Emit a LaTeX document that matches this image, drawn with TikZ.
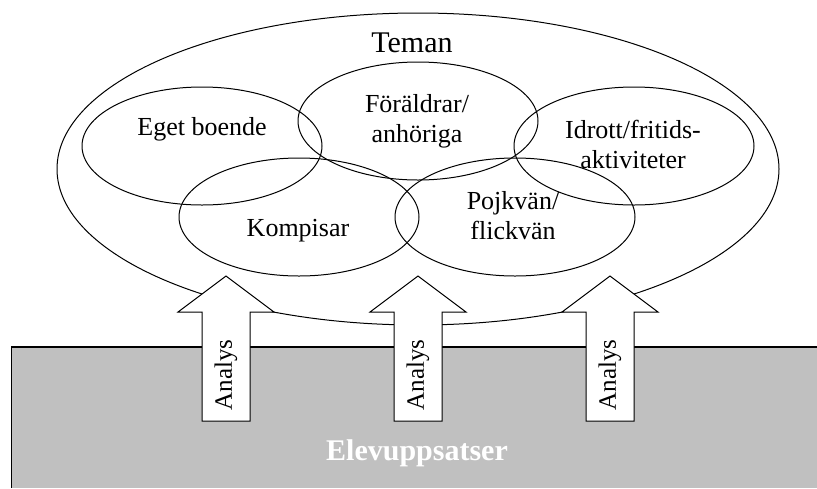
\documentclass[tikz,border=0pt]{standalone}
\usepackage{fontspec}
\setmainfont{Liberation Serif}
\usepackage{tikz}
\usetikzlibrary{shapes.geometric}
\definecolor{boxgray}{RGB}{192,192,192}

\begin{document}
\begin{tikzpicture}[x=1pt,y=-1pt,line width=1pt,
  tema/.style={draw,ellipse,inner sep=0pt,minimum width=240pt,minimum height=118pt},
  etikett/.style={align=center,font=\fontsize{26}{30}\selectfont}]
\useasboundingbox (0,0) rectangle (817,488);
\node[draw,ellipse,inner sep=0pt,minimum width=722pt,minimum height=312pt] (teman) at (418,169) {};
\node[tema] (eget) at (202,146) {};
\node[tema] (foraldrar) at (418,121) {};
\node[tema] (idrott) at (634,146) {};
\node[tema] (kompisar) at (299,217) {};
\node[tema] (pojkvan) at (515,217) {};
\node[font=\fontsize{30}{34}\selectfont] (temantext) at (412,43) {Teman};
\node[etikett] (egettext) at (202,129) {Eget boende};
\node[etikett] (foraldrartext) at (417,121) {Föräldrar/\\anhöriga};
\node[etikett] (idrotttext) at (633,144) {Idrott/fritids-\\aktiviteter};
\node[etikett] (kompisartext) at (298,231) {Kompisar};
\node[etikett] (pojkvantext) at (513,216) {Pojkvän/\\flickvän};
\fill[boxgray] (11.5,347) rectangle (817,488);
\draw[line width=1.5pt] (11.5,488) -- (11.5,347) -- (817,347);
\node[font=\bfseries\fontsize{30}{34}\selectfont,text=white] (elev) at (417,453) {Elevuppsatser};
\foreach \x in {226,418,610} {
  \draw[fill=white] (\x-24,421) -- (\x-24,312) -- (\x-48,312) -- (\x,276) -- (\x+48,312) -- (\x+24,312) -- (\x+24,421) -- cycle;
  \node[rotate=90,font=\fontsize{25}{30}\selectfont] (analys\x) at (\x,375) {Analys};
}
\end{tikzpicture}
\end{document}
